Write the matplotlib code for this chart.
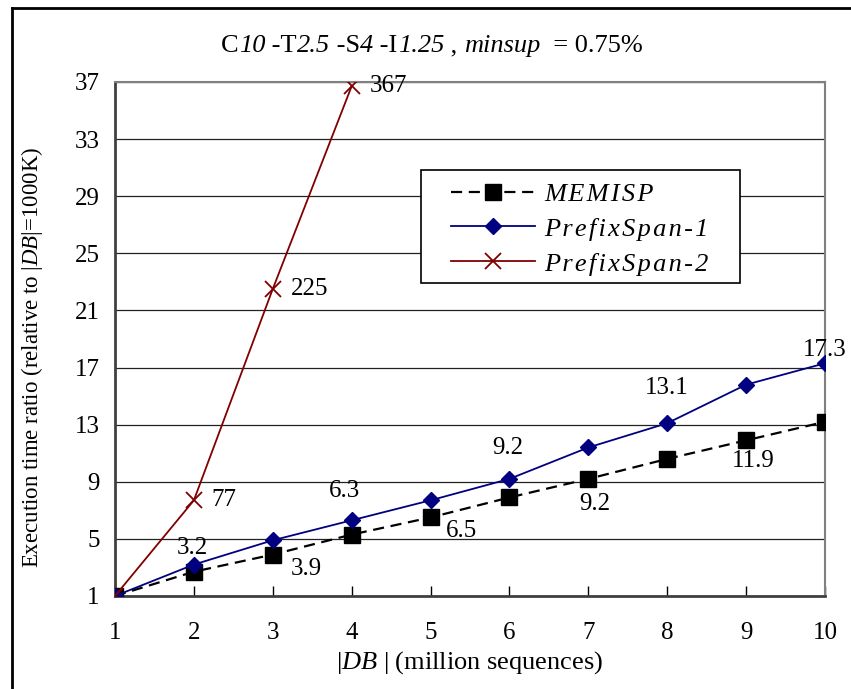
import matplotlib

matplotlib.use("Agg")
import matplotlib.pyplot as plt
from matplotlib.lines import Line2D
from matplotlib.patches import Rectangle

plt.rcParams["font.family"] = ["Liberation Serif", "DejaVu Serif"]
plt.rcParams["mathtext.fontset"] = "custom"
plt.rcParams["mathtext.rm"] = "Liberation Serif"
plt.rcParams["mathtext.it"] = "Liberation Serif:italic"

# data
db_sizes = [1, 2, 3, 4, 5, 6, 7, 8, 9, 10]
memisp = [1, 2.7, 3.9, 5.3, 6.5, 7.9, 9.2, 10.6, 11.9, 13.2]
prefixspan1 = [1, 3.2, 4.9, 6.3, 7.7, 9.2, 11.4, 13.1, 15.8, 17.3]
prefixspan2_x = [1, 2, 3, 4]
prefixspan2 = [1, 7.7, 22.5, 36.7]

# which points carry a value label, and the label text
memisp_lbl_idx = [2, 4, 6, 8]
memisp_lbl = ["3.9", "6.5", "9.2", "11.9"]
ps1_lbl_idx = [1, 3, 5, 7, 9]
ps1_lbl = ["3.2", "6.3", "9.2", "13.1", "17.3"]
ps2_lbl_idx = [1, 2, 3]
ps2_lbl = ["77", "225", "367"]

series_names = ["MEMISP", "PrefixSpan-1", "PrefixSpan-2"]
y_ticks = [1, 5, 9, 13, 17, 21, 25, 29, 33, 37]

# label offsets in pixels (dx, dy), to mimic the original placement
memisp_off = [(34, -14), (31, -14), (7, -25), (7, -21)]
ps1_off = [(-1, 17), (-7, 29), (-2, 31), (0, 35), (0, 13)]
PX = 0.72  # points per pixel at dpi 100

fig = plt.figure(figsize=(8.51, 6.89), dpi=100)
ax = fig.add_axes([0.1351, 0.135, 0.8343, 0.746])

h1, = ax.plot(db_sizes, memisp, "--", color="black", lw=1.6, dashes=(5, 3),
              marker="s", ms=11, zorder=3)
h2, = ax.plot(db_sizes, prefixspan1, "-", color="#000080", lw=1.3,
              marker="D", ms=8.5, zorder=4)
h3, = ax.plot(prefixspan2_x, prefixspan2, "-", color="#800000", lw=1.3,
              marker="x", ms=11, mew=1.3, zorder=5)

fs = 18
for (i, t), (dx, dy) in zip(zip(memisp_lbl_idx, memisp_lbl), memisp_off):
    ax.annotate(t, (db_sizes[i], memisp[i]), xytext=(dx * PX, dy * PX), textcoords="offset points",
                ha="center", va="center", fontsize=fs)
for (i, t), (dx, dy) in zip(zip(ps1_lbl_idx, ps1_lbl), ps1_off):
    ax.annotate(t, (db_sizes[i], prefixspan1[i]), xytext=(dx * PX, dy * PX), textcoords="offset points",
                ha="center", va="center", fontsize=fs)
for i, t in zip(ps2_lbl_idx, ps2_lbl):
    ax.annotate(t, (prefixspan2_x[i], prefixspan2[i]), xytext=(18 * PX, 0), textcoords="offset points",
                ha="left", va="center", fontsize=fs)

ax.set_xlim(1, 10)
ax.set_ylim(1, 37)
ax.set_xticks(db_sizes)
ax.set_yticks(y_ticks)
ax.tick_params(axis="x", direction="in", length=7, width=1, pad=19, labelsize=fs)
ax.tick_params(axis="y", direction="in", length=0, pad=11, labelsize=fs)
ax.grid(axis="y", color="#222222", lw=0.9)
ax.set_axisbelow(True)

for side in ["left", "bottom"]:
    ax.spines[side].set_color("#404040")
    ax.spines[side].set_linewidth(2)
for side in ["top", "right"]:
    ax.spines[side].set_color("#808080")
    ax.spines[side].set_linewidth(1.5)

fig.text(470 / 851, 1 - 663 / 689, r"|$\mathit{DB}$ | (million sequences)",
         ha="center", va="center", fontsize=19)
fig.text(32 / 851, 1 - 357 / 689, r"Execution time ratio (relative to |$\mathit{DB}$|=1000K)",
         ha="center", va="center", rotation=90, fontsize=16.5)

# legend: white box drawn by hand, entries without frame
ax.add_patch(Rectangle((0.431, 0.609), 0.449, 0.22, transform=ax.transAxes,
                       facecolor="white", edgecolor="black", lw=1.2, zorder=6))
hair = "\u200a"
spaced = [hair.join(n) for n in series_names]
leg = ax.legend([h1, h2, h3], spaced, loc="upper left", bbox_to_anchor=(0.462, 0.82),
                prop={"size": 19, "style": "italic"}, handlelength=3.2, frameon=False,
                borderpad=0.3, labelspacing=0.43, handletextpad=0.35, borderaxespad=0)
leg.set_zorder(7)

# title with mixed upright / italic pieces
title_parts = [("C", "normal"), ("10", "italic"), (" -T", "normal"), ("2.5", "italic"),
               (" -S", "normal"), ("4", "italic"), (" -I", "normal"), ("1.25", "italic"),
               (" , ", "normal"), ("minsup", "italic"), ("  = 0.75%", "normal")]
renderer = fig.canvas.get_renderer()
texts = [fig.text(0, 1 - 46 / 689, s, style=st, fontsize=19, va="center", ha="left")
         for s, st in title_parts]
widths = [t.get_window_extent(renderer).width for t in texts]
x = 432 - sum(widths) / 2
for t, w in zip(texts, widths):
    t.set_x(x / 851)
    x += w

# outer frame of the figure (only left and top edges are visible)
fig.add_artist(Line2D([12 / 851, 12 / 851], [0, 1 - 8 / 689], color="black", lw=2))
fig.add_artist(Line2D([12 / 851, 1], [1 - 8 / 689, 1 - 8 / 689], color="black", lw=2))

fig.savefig("out.png", dpi=100, facecolor="white")
